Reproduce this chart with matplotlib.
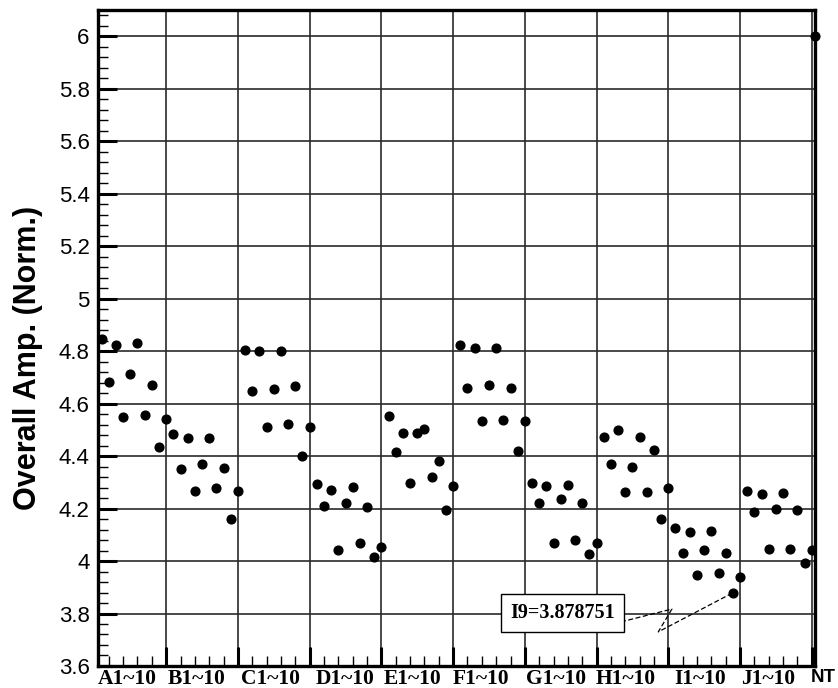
import matplotlib
matplotlib.use("Agg")
import matplotlib.pyplot as plt
from matplotlib.ticker import MultipleLocator, FuncFormatter

# values, 10 samples per group
group_a = [4.848, 4.683, 4.823, 4.550, 4.712, 4.829, 4.556, 4.670, 4.433, 4.543]
group_b = [4.483, 4.350, 4.467, 4.268, 4.370, 4.467, 4.277, 4.353, 4.162, 4.266]
group_c = [4.806, 4.649, 4.801, 4.510, 4.654, 4.801, 4.522, 4.667, 4.400, 4.512]
group_d = [4.293, 4.211, 4.270, 4.042, 4.222, 4.283, 4.070, 4.204, 4.014, 4.052]
group_e = [4.552, 4.414, 4.489, 4.298, 4.489, 4.503, 4.321, 4.381, 4.193, 4.286]
group_f = [4.825, 4.660, 4.813, 4.533, 4.669, 4.813, 4.538, 4.660, 4.420, 4.533]
group_g = [4.298, 4.222, 4.287, 4.070, 4.236, 4.288, 4.080, 4.221, 4.025, 4.070]
group_h = [4.471, 4.370, 4.499, 4.262, 4.359, 4.474, 4.264, 4.423, 4.159, 4.277]
group_i = [4.124, 4.032, 4.112, 3.947, 4.042, 4.114, 3.956, 4.032, 3.878751, 3.940]
group_j = [4.267, 4.187, 4.254, 4.047, 4.200, 4.260, 4.047, 4.194, 3.991, 4.042]
nt_value = 6.0

group_labels = ["A1~10", "B1~10", "C1~10", "D1~10", "E1~10",
                "F1~10", "G1~10", "H1~10", "I1~10", "J1~10"]
label_pos = [4.6, 14.3, 24.5, 34.9, 44.4, 53.9, 64.4, 74.1, 84.5, 93.9]

groups = [group_a, group_b, group_c, group_d, group_e,
          group_f, group_g, group_h, group_i, group_j]
values = [v for g in groups for v in g]
samples = list(range(1, len(values) + 1))
nt_x = 100.5

fig = plt.figure(figsize=(8.38, 6.88), dpi=100)
ax = fig.add_axes([0.117, 0.032, 0.856, 0.9535])

ax.plot(samples, values, "o", color="black", markersize=6.3, zorder=5)
ax.plot([nt_x], [nt_value], "o", color="black", markersize=6.3, zorder=6, clip_on=False)

ax.set_xlim(0.5, 100.5)
ax.set_ylim(3.6, 6.1)

ax.xaxis.set_major_locator(MultipleLocator(10))
ax.xaxis.set_minor_locator(MultipleLocator(2))
ax.yaxis.set_major_locator(MultipleLocator(0.2))
ax.yaxis.set_minor_locator(MultipleLocator(0.04))
ax.grid(True, which="major", color="#2a2a2a", linewidth=1.2)
ax.set_axisbelow(True)

ax.tick_params(axis="both", which="major", direction="in", length=14, width=2.2, color="black")
ax.tick_params(axis="both", which="minor", direction="in", length=7, width=1.0, color="black")
ax.tick_params(axis="y", labelsize=16, pad=6)
ax.set_xticklabels([])
ax.yaxis.set_major_formatter(FuncFormatter(lambda v, p: f"{v:g}"))
for lab in ax.get_yticklabels():
    lab.set_fontfamily("Liberation Sans")

for side in ["left", "bottom", "right", "top"]:
    ax.spines[side].set_linewidth(2.4)

ax.set_ylabel("Overall Amp. (Norm.)", fontsize=22, fontweight="bold",
              family="Liberation Sans")
ax.yaxis.set_label_coords(-0.077, 0.47)

for pos, text in zip(label_pos, group_labels):
    ax.text(pos, -0.004, text, transform=ax.get_xaxis_transform(),
            ha="center", va="top", fontsize=15.5, fontweight="bold",
            family="Liberation Serif")
fig.text(0.997, 0.028, "NT", ha="right", va="top", fontsize=13.5,
         fontweight="bold", family="Liberation Sans")

# annotation for the minimum point
min_x = samples[values.index(min(values))]
min_y = min(values)
ax.text(65.3, 3.802, f"I9={min_y:.6f}", ha="center", va="center",
        fontsize=14.5, fontweight="bold", family="Liberation Serif", zorder=7,
        bbox=dict(boxstyle="square,pad=0.45", facecolor="white",
                  edgecolor="black", linewidth=1.0))
zig_x = [73.4, 80.5, 78.6, min_x - 0.3]
zig_y = [3.768, 3.817, 3.730, min_y - 0.004]
ax.plot(zig_x, zig_y, color="black", linewidth=0.9, linestyle=(0, (4, 2)), zorder=6)

fig.savefig("out.png", dpi=100)
